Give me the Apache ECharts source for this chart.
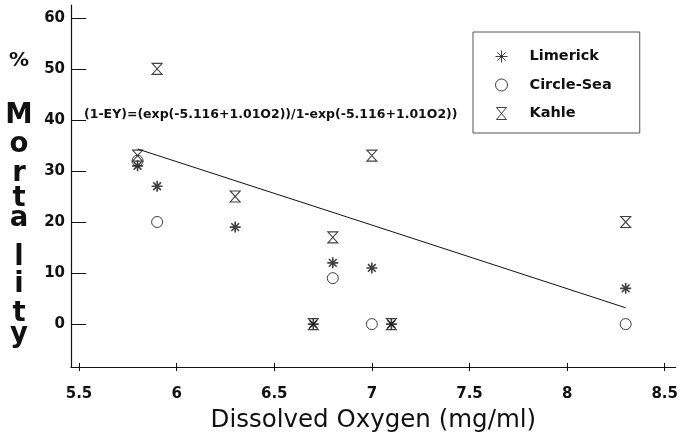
<!DOCTYPE html>
<html>
<head>
<meta charset="utf-8">
<script src="https://cdn.jsdelivr.net/npm/echarts@6/dist/echarts.min.js"></script>
<style>
  html, body { margin: 0; padding: 0; background: #fff; }
  #chart { width: 681px; height: 440px; }
</style>
</head>
<body>
<div id="chart"></div>
<script>
// values
const limerick = [[5.8, 31], [5.9, 27], [6.3, 19], [6.7, 0], [6.8, 12], [7.0, 11], [7.1, 0], [8.3, 7]]
const circleSea = [[5.8, 32], [5.9, 20], [6.8, 9], [7.0, 0], [8.3, 0]]
const kahle = [[5.8, 33], [5.9, 50], [6.3, 25], [6.7, 0], [6.8, 17], [7.0, 33], [7.1, 0], [8.3, 20]]
const fitLine = [[5.8, 34.3], [7.0, 19.4], [8.3, 3.2]]
const xTicks = [5.5, 6, 6.5, 7, 7.5, 8, 8.5]
const yTicks = [0, 10, 20, 30, 40, 50, 60]
const equation = '(1-EY)=(exp(-5.116+1.01O2))/1-exp(-5.116+1.01O2))'

const FONT = 'DejaVu Sans'
const INK = '#111'

const starPath = 'path://M5,0L5,10M0,5L10,5M1.5,1.5L8.5,8.5M8.5,1.5L1.5,8.5'
const hourglassPath = 'path://M0,0L10,0L0,12L10,12Z'

const chart = echarts.init(document.getElementById('chart'))

// vertical "% Mortality" title, one letter per line
const titleLetters = [
  { t: '%', y: 61, size: 20 },
  { t: 'M', y: 116, size: 27.5 },
  { t: 'o', y: 145, size: 27.5 },
  { t: 'r', y: 174, size: 27.5 },
  { t: 't', y: 199, size: 27.5 },
  { t: 'a', y: 219, size: 27.5 },
  { t: 'l', y: 258, size: 27.5 },
  { t: 'i', y: 285, size: 27.5 },
  { t: 't', y: 314, size: 27.5 },
  { t: 'y', y: 335, size: 27.5 }
]

const option = {
  animation: false,
  backgroundColor: '#fff',
  grid: { left: 71, right: 4, top: 5, bottom: 73 },
  legend: {
    data: ['Limerick', 'Circle-Sea', 'Kahle'],
    orient: 'vertical',
    left: 473,
    top: 32,
    padding: [17, 28, 12, 22],
    itemGap: 13.5,
    itemWidth: 12,
    itemHeight: 12,
    borderColor: '#555',
    borderWidth: 1,
    itemStyle: { borderWidth: 1 },
    textStyle: {
      fontFamily: FONT,
      fontWeight: 'bold',
      fontSize: 14.5,
      color: INK,
      padding: [0, 0, 0, 17]
    }
  },
  xAxis: [{
    type: 'value',
    min: 5.459,
    max: 8.556,
    name: 'Dissolved Oxygen (mg/ml)',
    nameLocation: 'middle',
    nameGap: 41,
    nameTextStyle: { fontFamily: FONT, fontSize: 24.5, color: INK },
    axisLine: { onZero: false, lineStyle: { color: INK, width: 1.2 } },
    axisTick: { show: true, inside: false, length: 4, customValues: xTicks, lineStyle: { color: INK } },
    axisLabel: {
      customValues: xTicks,
      margin: 20,
      fontFamily: FONT,
      fontWeight: 'bold',
      fontSize: 15,
      color: INK
    },
    splitLine: { show: false }
  }, {
    type: 'value',
    min: 5.459,
    max: 8.556,
    position: 'bottom',
    axisLine: { show: false, onZero: false },
    axisTick: { show: true, inside: true, length: 4, customValues: xTicks, lineStyle: { color: INK } },
    axisLabel: { show: false },
    splitLine: { show: false }
  }],
  yAxis: {
    type: 'value',
    min: -8.4,
    max: 62.5,
    axisLine: { show: true, onZero: false, lineStyle: { color: INK, width: 1.2 } },
    axisTick: { show: true, inside: true, length: 15, customValues: yTicks, lineStyle: { color: INK } },
    axisLabel: {
      customValues: yTicks,
      margin: 6,
      fontFamily: FONT,
      fontWeight: 'bold',
      fontSize: 15,
      color: INK
    },
    splitLine: { show: false }
  },
  graphic: titleLetters.map(l => ({
    type: 'text',
    x: 19,
    y: l.y,
    style: {
      text: l.t,
      fontFamily: FONT,
      fontWeight: 'bold',
      fontSize: l.size,
      fill: INK,
      align: 'center',
      verticalAlign: 'middle'
    }
  })).concat([{
    type: 'text',
    x: 84,
    y: 115,
    style: {
      text: equation,
      fontFamily: FONT,
      fontWeight: 'bold',
      fontSize: 12.5,
      fill: INK,
      align: 'left',
      verticalAlign: 'middle'
    }
  }]),
  series: [
    {
      name: 'fit',
      type: 'line',
      data: fitLine,
      showSymbol: false,
      symbol: 'none',
      lineStyle: { color: INK, width: 1 },
      silent: true
    },
    {
      name: 'Limerick',
      type: 'scatter',
      data: limerick,
      symbol: starPath,
      symbolSize: 11,
      itemStyle: { color: 'rgba(0,0,0,0)', borderColor: INK, borderWidth: 1.6 }
    },
    {
      name: 'Circle-Sea',
      type: 'scatter',
      data: circleSea,
      symbol: 'circle',
      symbolSize: 11,
      itemStyle: { color: 'rgba(0,0,0,0)', borderColor: INK, borderWidth: 1 }
    },
    {
      name: 'Kahle',
      type: 'scatter',
      data: kahle,
      symbol: hourglassPath,
      symbolSize: [10, 11],
      itemStyle: { color: 'rgba(0,0,0,0)', borderColor: INK, borderWidth: 1.1 }
    }
  ]
}

chart.setOption(option)
</script>
</body>
</html>
